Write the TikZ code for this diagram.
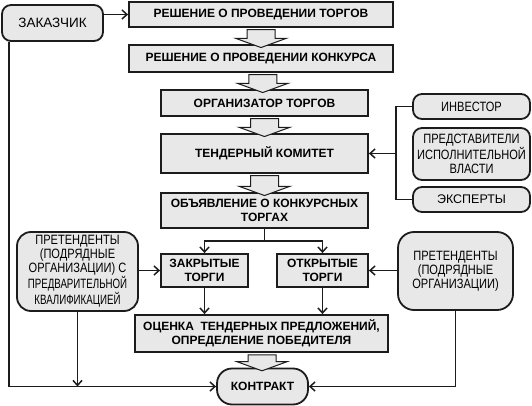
\documentclass[tikz,border=0pt]{standalone}
\usepackage{fontspec}
\setmainfont{Liberation Sans}
\newfontfamily\narrowfont[FakeStretch=0.82]{Liberation Sans}
\newfontfamily\narrowerfont[FakeStretch=0.72]{Liberation Sans}
\usetikzlibrary{arrows.meta,calc,positioning,shapes.arrows}
\definecolor{BoxGray}{RGB}{232,232,232}
\definecolor{LineBlack}{RGB}{28,28,28}

\begin{document}
\begin{tikzpicture}[x=1pt,y=-1pt,>={Straight Barb[length=5pt,width=9pt]},
    sqbox/.style={draw=LineBlack,fill=BoxGray,line width=1.8pt,inner sep=0pt,align=center,
      font=\fontsize{12}{14}\selectfont\bfseries},
    rbox/.style={draw=LineBlack,fill=BoxGray,line width=1.8pt,inner sep=0pt,align=center,
      rounded corners=9pt,font=\fontsize{13.5}{14}\selectfont\narrowfont},
    bigarrow/.style={single arrow,draw=LineBlack,fill=BoxGray,line width=1pt,
      shape border rotate=270,inner xsep=13.5pt,inner ysep=0pt,
      single arrow head extend=11.5pt,single arrow tip angle=140},
    link/.style={draw=LineBlack,line width=1.5pt}]
  \useasboundingbox (0,0) rectangle (532,406);

  % main column
  \node[sqbox,minimum width=264pt,minimum height=25pt] (r1) at (261,14.5) {РЕШЕНИЕ О ПРОВЕДЕНИИ ТОРГОВ};
  \node[sqbox,minimum width=264pt,minimum height=27pt] (r2) at (261,58.5) {РЕШЕНИЕ О ПРОВЕДЕНИИ КОНКУРСА};
  \node[sqbox,minimum width=207pt,minimum height=26pt] (org) at (264.5,103) {ОРГАНИЗАТОР ТОРГОВ};
  \node[sqbox,minimum width=207pt,minimum height=39pt] (tk) at (264.5,153.5) {ТЕНДЕРНЫЙ КОМИТЕТ};
  \node[sqbox,minimum width=207pt,minimum height=35pt] (obj) at (264.5,210.5) {ОБЪЯВЛЕНИЕ О КОНКУРСНЫХ\\ТОРГАХ};
  \node[sqbox,minimum width=87pt,minimum height=33pt] (zakr) at (204.5,270.5) {ЗАКРЫТЫЕ\\ТОРГИ};
  \node[sqbox,minimum width=91pt,minimum height=33pt] (otkr) at (322.5,270.5) {ОТКРЫТЫЕ\\ТОРГИ};
  \node[sqbox,minimum width=253pt,minimum height=37pt] (ocen) at (261.5,333.5) {ОЦЕНКА\ \ ТЕНДЕРНЫХ ПРЕДЛОЖЕНИЙ,\\ОПРЕДЕЛЕНИЕ ПОБЕДИТЕЛЯ};
  \node[rbox,rounded corners=15pt,font=\fontsize{12}{14}\selectfont\bfseries,
    minimum width=91pt,minimum height=36pt] (kontr) at (262.5,386.5) {КОНТРАКТ};

  % side boxes
  \node[rbox,font=\fontsize{13.5}{14}\selectfont,minimum width=101pt,minimum height=36pt] (zak) at (52.5,23) {ЗАКАЗЧИК};
  \node[rbox,minimum width=117pt,minimum height=25pt] (inv) at (471.5,106.5) {ИНВЕСТОР};
  \node[rbox,minimum width=117pt,minimum height=52pt] (pred) at (471.5,154) {ПРЕДСТАВИТЕЛИ\\ИСПОЛНИТЕЛЬНОЙ\\ВЛАСТИ};
  \node[rbox,font=\fontsize{12.5}{14}\selectfont,minimum width=117pt,minimum height=25pt] (exp) at (471.5,199.5) {ЭКСПЕРТЫ};
  \node[rbox,rounded corners=14pt,minimum width=121pt,minimum height=79pt] (pretL) at (77.5,271.5)
    {ПРЕТЕНДЕНТЫ\\(ПОДРЯДНЫЕ\\ОРГАНИЗАЦИИ) С\\{\narrowerfont ПРЕДВАРИТЕЛЬНОЙ}\\{\narrowerfont КВАЛИФИКАЦИЕЙ}};
  \node[rbox,rounded corners=16pt,minimum width=115pt,minimum height=78pt] (pretR) at (455.5,271)
    {ПРЕТЕНДЕНТЫ\\(ПОДРЯДНЫЕ\\ОРГАНИЗАЦИИ)};

  % hollow arrows
  \node[bigarrow,minimum height=18pt] (a1) at ($(r1.south)!0.5!(r2.north)$) {};
  \node[bigarrow,minimum height=18pt] (a2) at ($(r2.south)!0.5!(org.north)$) {};
  \node[bigarrow,minimum height=18pt] (a3) at ($(org.south)!0.5!(tk.north)$) {};
  \node[bigarrow,minimum height=20pt] (a4) at ($(tk.south)!0.5!(obj.north)$) {};
  \node[bigarrow,minimum height=16pt] (a5) at ($(ocen.south)!0.5!(kontr.north)$) {};

  % connectors
  \draw[link,->] (zak.east |- r1) -- (r1.west);
  \draw[link,->] ([xshift=8pt]zak.south west) |- (kontr.west);
  \draw[link,->] (pretL.east |- zakr) -- (zakr.west);
  \draw[link,->] (pretL.south) -- (pretL.south |- kontr.west);
  \draw[link,->] (pretR.west |- otkr) -- (otkr.east);
  \draw[link,->] (pretR.south) |- (kontr.east);
  \coordinate (br) at ($(obj.south)+(0,12)$);
  \draw[link] (obj.south) -- (br);
  \draw[link,->] (br) -| (zakr.north);
  \draw[link,->] (br) -| (otkr.north);
  \draw[link,->] (zakr.south) -- (zakr.south |- ocen.north);
  \draw[link,->] (otkr.south) -- (otkr.south |- ocen.north);
  \draw[link] (inv.west) -- ++(-16,0) coordinate (bt) -- (bt |- exp.west) -- (exp.west);
  \draw[link,->] (bt |- tk) -- (tk.east);
\end{tikzpicture}
\end{document}
